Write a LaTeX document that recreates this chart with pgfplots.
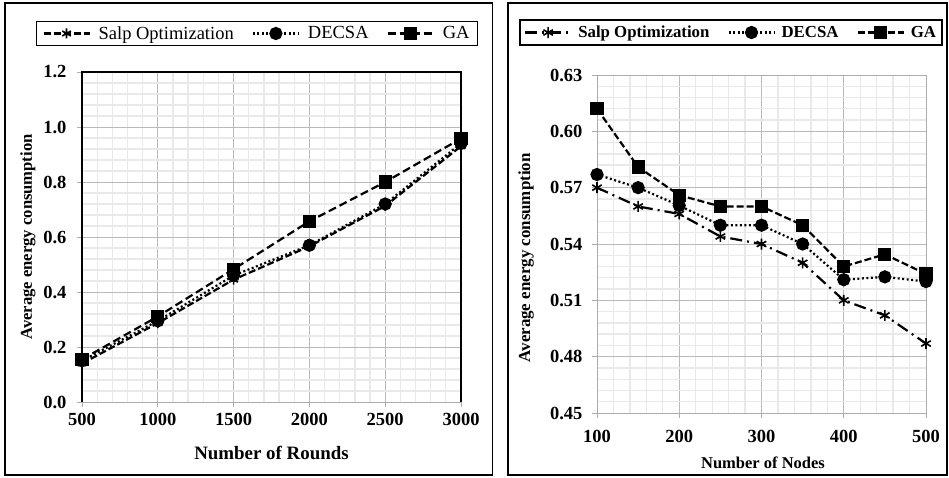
\documentclass[border=0pt]{standalone}
\usepackage{pgfplots}
\pgfplotsset{compat=1.18}
\usepackage{fontspec}
\setmainfont{Liberation Serif}
\begin{document}
\begin{tikzpicture}
\path (0pt,0pt) rectangle (949pt,477pt);
\draw[line width=1.3pt] (5pt,2pt) rectangle (492.5pt,474pt);
\draw[line width=1.3pt] (508pt,2pt) rectangle (947pt,474pt);
\pgfplotsset{
  common/.style={
    scale only axis, anchor=south west, clip=false,
    grid=both,
    major grid style={gray!55, line width=0.9pt},
    minor grid style={gray!17, line width=1.3pt},
    axis line style={gray!65, line width=0.9pt},
    tick pos=left, tick align=outside, major tick length=5pt, minor tick length=0pt,
    tick style={gray!65, line width=0.9pt},
    minor x tick num=4, minor y tick num=4,
    /pgf/number format/assume math mode=true,
    legend columns=3, legend cell align=left,
    legend image code/.code={\draw[mark repeat=2,mark phase=2,##1] plot coordinates {(0pt,0pt) (23pt,0pt) (46pt,0pt)};},
  }
}
% ---------------- Left panel ----------------
\begin{axis}[common,
  at={(82pt,75pt)}, width=379pt, height=330pt,
  xmin=500, xmax=3000, ymin=0, ymax=1.2,
  xtick={500,1000,1500,2000,2500,3000},
  ytick={0,0.2,0.4,0.6,0.8,1.0,1.2},
  ticklabel style={font=\fontsize{18.5}{20}\selectfont\bfseries},
  xticklabel style={yshift=-3pt, /pgf/number format/.cd, set thousands separator={}},
  yticklabel style={xshift=-7pt, /pgf/number format/.cd, fixed, fixed zerofill, precision=1},
  xlabel={Number of Rounds},
  ylabel={Average energy consumption},
  xlabel style={font=\fontsize{18.9}{20}\selectfont\bfseries, at={(axis description cs:0.5,-0.1545)}, anchor=center},
  ylabel style={font=\fontsize{16.6}{18}\selectfont\bfseries, at={(axis description cs:-0.1425,0.5)}, anchor=center},
  legend style={at={(axis description cs:0.4617,1.1167)}, anchor=center, draw=black, line width=1.3pt,
    font=\fontsize{18.5}{20}\selectfont, inner xsep=6pt, inner ysep=3pt,
    /tikz/every odd column/.append style={column sep=6pt},
    /tikz/every even column/.append style={column sep=16pt}},
]
\addplot[black, line width=2.2pt, dash pattern=on 7pt off 3pt, mark=asterisk, mark size=5pt, mark options={solid, line width=1.6pt}]
  coordinates {(500,0.14) (1000,0.287) (1500,0.445) (2000,0.566) (2500,0.713) (3000,0.93)};
\addlegendentry{Salp Optimization}
\addplot[black, line width=2.2pt, dash pattern=on 2pt off 2.5pt, mark=*, mark size=5.5pt, mark options={solid}]
  coordinates {(500,0.15) (1000,0.295) (1500,0.46) (2000,0.57) (2500,0.72) (3000,0.94)};
\addlegendentry{DECSA}
\addplot[black, line width=2.2pt, dash pattern=on 8pt off 4pt, mark=square*, mark size=5.5pt, mark options={solid}]
  coordinates {(500,0.155) (1000,0.311) (1500,0.483) (2000,0.657) (2500,0.80) (3000,0.958)};
\addlegendentry{GA}
\draw[black, line width=1.6pt] (rel axis cs:0,0) -- (rel axis cs:0,1) -- (rel axis cs:1,1) -- (rel axis cs:1,0);
\end{axis}
% ---------------- Right panel ----------------
\begin{axis}[common,
  at={(597pt,64pt)}, width=329pt, height=338pt,
  xmin=100, xmax=500, ymin=0.45, ymax=0.63,
  xtick={100,200,300,400,500},
  ytick={0.45,0.48,0.51,0.54,0.57,0.60,0.63},
  ticklabel style={font=\fontsize{18.5}{20}\selectfont\bfseries},
  xticklabel style={yshift=-9pt},
  yticklabel style={xshift=-6pt, /pgf/number format/.cd, fixed, fixed zerofill, precision=2},
  xlabel={Number of Nodes},
  ylabel={Average energy consumption},
  xlabel style={font=\fontsize{16.5}{18}\selectfont\bfseries, at={(axis description cs:0.5046,-0.148)}, anchor=center},
  ylabel style={font=\fontsize{16.9}{18}\selectfont\bfseries, at={(axis description cs:-0.2158,0.459)}, anchor=center},
  legend style={at={(axis description cs:0.4073,1.1257)}, anchor=center, draw=black, line width=1.3pt,
    font=\fontsize{16.8}{18}\selectfont\bfseries, inner xsep=4pt, inner ysep=4pt,
    /tikz/every odd column/.append style={column sep=4pt},
    /tikz/every even column/.append style={column sep=16pt}},
]
\addplot[black, line width=2.2pt, dash pattern=on 12pt off 5pt on 2pt off 5pt, mark=asterisk, mark size=5.5pt, mark options={solid, line width=1.6pt}]
  coordinates {(100,0.57) (150,0.56) (200,0.556) (250,0.544) (300,0.54) (350,0.53) (400,0.51) (450,0.502) (500,0.487)};
\addlegendentry{Salp Optimization}
\addplot[black, line width=2.2pt, dash pattern=on 2pt off 2.5pt, mark=*, mark size=5.5pt, mark options={solid}]
  coordinates {(100,0.577) (150,0.57) (200,0.5605) (250,0.55) (300,0.55) (350,0.54) (400,0.521) (450,0.5225) (500,0.52)};
\addlegendentry{DECSA}
\addplot[black, line width=2.2pt, dash pattern=on 7pt off 3pt, mark=square*, mark size=5.5pt, mark options={solid}]
  coordinates {(100,0.612) (150,0.581) (200,0.566) (250,0.56) (300,0.56) (350,0.55) (400,0.528) (450,0.5345) (500,0.524)};
\addlegendentry{GA}
\end{axis}
\end{tikzpicture}
\end{document}
